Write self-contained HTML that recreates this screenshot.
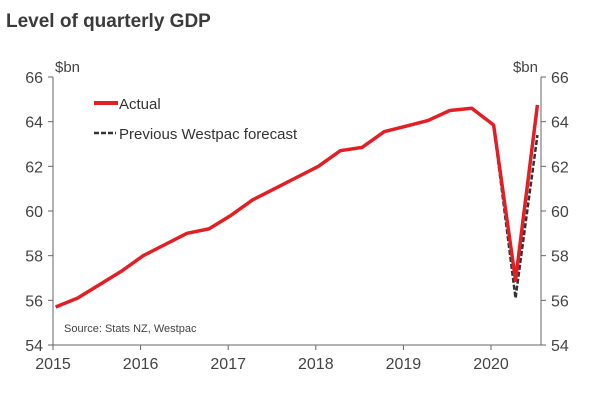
<!DOCTYPE html>
<html><head><meta charset="utf-8"><style>
body{margin:0;background:#fff;width:600px;height:403px;overflow:hidden;font-family:"Liberation Sans",Arial,sans-serif}
</style></head><body>
<svg width="600" height="403">
<text x="6" y="27" font-size="19" font-weight="bold" fill="#3b3b3b">Level of quarterly GDP</text>
<g id="axes"></g>
<g id="series"></g>
<g>
<line x1="94" y1="103" x2="118" y2="103" stroke="#e31f26" stroke-width="4"/>
<text x="119" y="109" font-size="15" fill="#333">Actual</text>
<line x1="94" y1="133" x2="116" y2="133" stroke="#333" stroke-width="2.5" stroke-dasharray="5,2"/>
<text x="119" y="139" font-size="15" fill="#333">Previous Westpac forecast</text>
</g>
<text x="64" y="332" font-size="11" fill="#444">Source: Stats NZ, Westpac</text>
</svg>
<script>
const actual=[55.7,56.1,56.7,57.3,58.0,58.5,59.0,59.2,59.8,60.5,61.0,61.5,62.0,62.7,62.85,63.55,63.8,64.05,64.5,64.6,63.85,56.9,64.75];
const forecastIdx=[20,21,22];
const forecast=[63.85,56.1,63.4];
const yTicks=[54,56,58,60,62,64,66];
const xTicks=[2015,2016,2017,2018,2019,2020];
const NS="http://www.w3.org/2000/svg";
const L=53,R=541,T=77,B=345;
const y=v=>B-(v-54)/12*(B-T);
const xy=yr=>L+(yr-2015)*87.6;
const xi=i=>xy(2015.03+i*0.25);
function mk(tag,at,parent){const e=document.createElementNS(NS,tag);for(const k in at)e.setAttribute(k,at[k]);parent.appendChild(e);return e;}
const ax=document.getElementById('axes');
let e=mk('line',{x1:L,y1:T,x2:L,y2:B,stroke:'#666','stroke-width':1},ax);


e=mk('line',{x1:R,y1:T,x2:R,y2:B,stroke:'#666','stroke-width':1},ax);


e=mk('line',{x1:L,y1:B,x2:R,y2:B,stroke:'#666','stroke-width':1},ax);


yTicks.forEach(v=>{
 mk('line',{x1:L-5,y1:y(v),x2:L,y2:y(v),stroke:'#666'},ax);
 mk('line',{x1:R,y1:y(v),x2:R+5,y2:y(v),stroke:'#666'},ax);
 let t=mk('text',{x:L-10,y:y(v)+6,'font-size':16,fill:'#444','text-anchor':'end'},ax);t.textContent=v;
 
 
 t=mk('text',{x:R+10,y:y(v)+6,'font-size':16,fill:'#444'},ax);t.textContent=v;
 
 
});
xTicks.forEach(v=>{
 mk('line',{x1:xy(v),y1:B,x2:xy(v),y2:B+5,stroke:'#666'},ax);
 const t=mk('text',{x:xy(v),y:B+24,'font-size':16,fill:'#444','text-anchor':'middle'},ax);t.textContent=v;
 
 
});
let u=mk('text',{x:55,y:72,'font-size':15,fill:'#444'},ax);u.textContent='$bn';


u=mk('text',{x:538,y:72,'font-size':15,fill:'#444','text-anchor':'end'},ax);u.textContent='$bn';


const sg=document.getElementById('series');
let p=mk('polyline',{points:forecast.map((v,k)=>xi(forecastIdx[k])+','+y(v)).join(' '),fill:'none',stroke:'#333','stroke-width':2.5,'stroke-dasharray':'5,2'},sg);


p=mk('polyline',{points:actual.map((v,i)=>xi(i)+','+y(v)).join(' '),fill:'none',stroke:'#e31f26','stroke-width':3.5,'stroke-linejoin':'round'},sg);


</script>
</body></html>
